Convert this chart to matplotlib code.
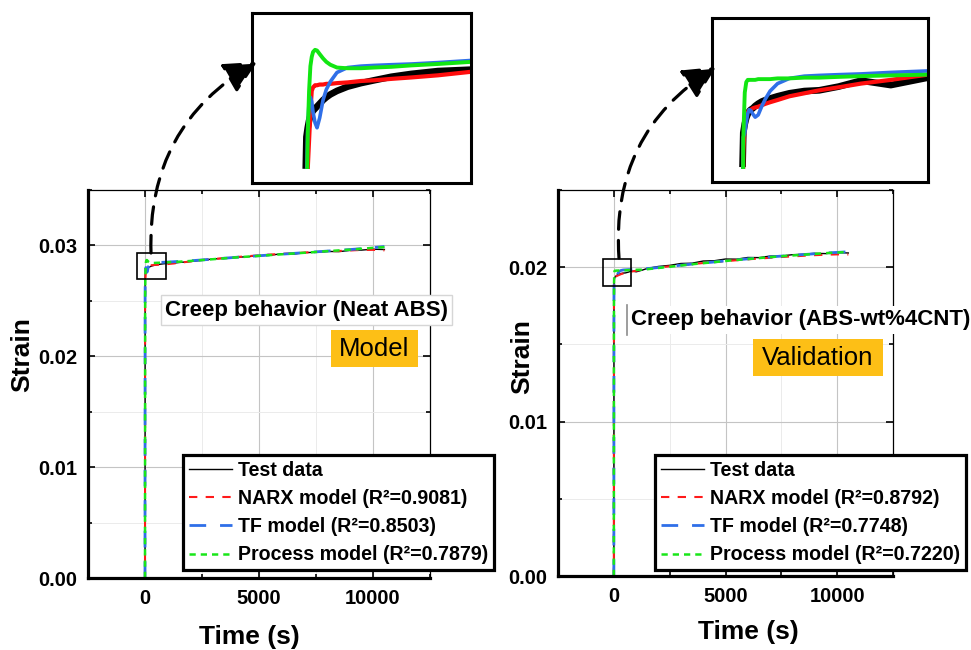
import matplotlib
matplotlib.use("Agg")
import matplotlib.pyplot as plt
from matplotlib.patches import Rectangle, FancyArrowPatch
from matplotlib.lines import Line2D
from matplotlib.ticker import MultipleLocator, FormatStrFormatter

plt.rcParams['font.family'] = ['Liberation Sans', 'DejaVu Sans']
plt.rcParams['font.weight'] = 'bold'

# ---------------------------------------------------------------- data
time_s = [0, 5, 10, 20, 30, 40, 50, 60, 75, 90, 110, 135, 160, 190, 240, 320,
          420, 520, 650, 800, 1000, 1250, 1500, 2000, 2500, 3000, 3500, 4000,
          4500, 5000, 5500, 6000, 6500, 7000, 7500, 8000, 8500, 9000, 9500,
          10000, 10500]

# Neat ABS (model set)
neat_test = [0, 0.02700, 0.02745, 0.02758, 0.02768, 0.02775, 0.02779, 0.02782,
             0.02785, 0.02788, 0.02792, 0.02797, 0.02801, 0.02805, 0.02810,
             0.02816, 0.02821, 0.02825, 0.02830, 0.02834, 0.02838, 0.02840,
             0.02846, 0.02855, 0.02866, 0.02878, 0.02884, 0.02893, 0.02898,
             0.02908, 0.02912, 0.02925, 0.02921, 0.02935, 0.02938, 0.02946,
             0.02944, 0.02955, 0.02958, 0.02966, 0.02963]
neat_narx = [0, 0.02620, 0.02660, 0.02700, 0.02740, 0.02780, 0.02810, 0.02815,
             0.02818, 0.02818, 0.02819, 0.02819, 0.02820, 0.02820, 0.02821,
             0.02822, 0.02824, 0.02825, 0.02827, 0.02829, 0.02832, 0.02837,
             0.02843, 0.02856, 0.02868, 0.02877, 0.02887, 0.02895, 0.02903,
             0.02910, 0.02918, 0.02924, 0.02930, 0.02936, 0.02941, 0.02946,
             0.02950, 0.02955, 0.02959, 0.02960, 0.02955]
neat_tf = [0, 0.02550, 0.02680, 0.02760, 0.02795, 0.02801, 0.02795, 0.02780,
           0.02765, 0.02758, 0.02772, 0.02797, 0.02812, 0.02823, 0.02836,
           0.02843, 0.02845, 0.02846, 0.02847, 0.02848, 0.02850, 0.02853,
           0.02856, 0.02862, 0.02869, 0.02877, 0.02885, 0.02893, 0.02900,
           0.02907, 0.02914, 0.02921, 0.02928, 0.02935, 0.02942, 0.02949,
           0.02956, 0.02963, 0.02971, 0.02980, 0.02990]
neat_proc = [0, 0.02400, 0.02620, 0.02750, 0.02810, 0.02845, 0.02858, 0.02865,
             0.02868, 0.02867, 0.02862, 0.02856, 0.02851, 0.02847, 0.02843,
             0.02842, 0.02842, 0.02843, 0.02844, 0.02846, 0.02848, 0.02851,
             0.02853, 0.02860, 0.02868, 0.02876, 0.02884, 0.02892, 0.02899,
             0.02906, 0.02913, 0.02920, 0.02927, 0.02934, 0.02941, 0.02948,
             0.02955, 0.02962, 0.02970, 0.02978, 0.02985]

# ABS-wt%4CNT (validation set)
cnt_test = [0, 0.01860, 0.01906, 0.01918, 0.01926, 0.01931, 0.01935, 0.01937,
            0.01939, 0.01942, 0.01945, 0.01948, 0.01950, 0.01952, 0.01955,
            0.01959, 0.01962, 0.01963, 0.01968, 0.01976, 0.01970, 0.01980,
            0.01992, 0.02005, 0.02012, 0.02024, 0.02026, 0.02040, 0.02042,
            0.02053, 0.02052, 0.02063, 0.02062, 0.02072, 0.02073, 0.02081,
            0.02084, 0.02090, 0.02088, 0.02095, 0.02092]
cnt_narx = [0, 0.01750, 0.01880, 0.01920, 0.01930, 0.01934, 0.01936, 0.01937,
            0.01939, 0.01940, 0.01941, 0.01943, 0.01945, 0.01947, 0.01950,
            0.01955, 0.01959, 0.01963, 0.01967, 0.01972, 0.01977, 0.01984,
            0.01990, 0.01998, 0.02006, 0.02013, 0.02020, 0.02027, 0.02033,
            0.02039, 0.02045, 0.02051, 0.02056, 0.02061, 0.02066, 0.02070,
            0.02074, 0.02078, 0.02081, 0.02083, 0.02082]
cnt_tf = [0, 0.01780, 0.01900, 0.01906, 0.01920, 0.01932, 0.01937, 0.01936,
          0.01931, 0.01927, 0.01930, 0.01942, 0.01952, 0.01962, 0.01972,
          0.01979, 0.01982, 0.01983, 0.01984, 0.01985, 0.01987, 0.01989,
          0.01991, 0.01998, 0.02005, 0.02013, 0.02020, 0.02027, 0.02034,
          0.02041, 0.02048, 0.02054, 0.02060, 0.02066, 0.02072, 0.02077,
          0.02082, 0.02087, 0.02092, 0.02096, 0.02100]
cnt_proc = [0, 0.01700, 0.01900, 0.01960, 0.01974, 0.01977, 0.01977, 0.01977,
            0.01977, 0.01977, 0.01978, 0.01978, 0.01978, 0.01978, 0.01979,
            0.01979, 0.01980, 0.01980, 0.01981, 0.01982, 0.01983, 0.01984,
            0.01987, 0.01995, 0.02003, 0.02011, 0.02019, 0.02026, 0.02033,
            0.02040, 0.02047, 0.02053, 0.02059, 0.02065, 0.02071, 0.02076,
            0.02081, 0.02086, 0.02091, 0.02095, 0.02099]

neat_r2 = ["0.9081", "0.8503", "0.7879"]
cnt_r2 = ["0.8792", "0.7748", "0.7220"]

# ---------------------------------------------------------------- layout
W, H = 971, 650
fig = plt.figure(figsize=(W / 100, H / 100), dpi=100)


def fx(px):
    return px / W


def fy(py):
    return 1 - py / H


def axes_px(left, top, right, bottom):
    return fig.add_axes([fx(left), fy(bottom), (right - left) / W, (bottom - top) / H])


SERIES_STYLE = [
    dict(color='black', lw=1.0, ls='-'),
    dict(color='#ff1a1a', lw=1.5, dashes=(4, 4)),
    dict(color='#2f6fe8', lw=2.0, dashes=(6, 5)),
    dict(color='#19e619', lw=1.8, dashes=(2.5, 2)),
]
INSET_STYLE = [
    dict(color='black', lw=4.8),
    dict(color='#ff0d0d', lw=3.0),
    dict(color='#2f6fe8', lw=2.6),
    dict(color='#12e612', lw=2.8),
]


def style_main(ax, ymax, ystep):
    ax.set_xlim(-2500, 12500)
    ax.set_ylim(0, ymax)
    ax.xaxis.set_major_locator(MultipleLocator(5000))
    ax.xaxis.set_minor_locator(MultipleLocator(2500))
    ax.yaxis.set_major_locator(MultipleLocator(ystep))
    ax.yaxis.set_minor_locator(MultipleLocator(ystep / 2))
    ax.yaxis.set_major_formatter(FormatStrFormatter('%.2f'))
    ax.grid(True, which='major', color='#c4c4c4', lw=0.8)
    ax.grid(True, which='minor', color='#ebebeb', lw=0.7)
    ax.set_axisbelow(True)
    ax.tick_params(which='both', direction='in', top=True, right=True,
                   labelsize=14.5, pad=8, width=1.2)
    ax.tick_params(which='major', length=5)
    ax.tick_params(which='minor', length=3)
    for side in ('left', 'bottom'):
        ax.spines[side].set_linewidth(2.3)
    for side in ('top', 'right'):
        ax.spines[side].set_linewidth(0.9)


def draw_panel(ax, series, r2, ymax, ystep, box, legend_at):
    labels = ["Test data",
              f"NARX model (R²={r2[0]})",
              f"TF model (R²={r2[1]})",
              f"Process model (R²={r2[2]})"]
    handles = []
    for y, st, lab in zip(series, SERIES_STYLE, labels):
        h, = ax.plot(time_s, y, label=lab, **st)
        handles.append(h)
    style_main(ax, ymax, ystep)
    (x0, x1), (y0, y1) = box
    ax.add_patch(Rectangle((x0, y0), x1 - x0, y1 - y0, fill=False,
                           lw=1.2, ec='black', zorder=6))
    leg = ax.legend(handles=handles, loc='upper left',
                    bbox_to_anchor=(fx(legend_at[0]), fy(legend_at[1])),
                    bbox_transform=fig.transFigure, borderaxespad=0,
                    fontsize=14.1, handlelength=2.2, handletextpad=0.3,
                    labelspacing=0.47, borderpad=0.3, fancybox=False,
                    framealpha=1, edgecolor='black')
    leg.get_frame().set_linewidth(2.3)


def draw_inset(rect, series, xlim, ylim):
    ins = axes_px(*rect)
    ins.set_xlim(*xlim)
    ins.set_ylim(*ylim)
    # the traces are shown only above a thin strip at the bottom of the frame
    floor = ylim[0] + 0.08 * (ylim[1] - ylim[0])
    keep = Rectangle((xlim[0], floor), xlim[1] - xlim[0], ylim[1] - floor,
                     transform=ins.transData, fill=False, lw=0)
    for y, st in zip(series, INSET_STYLE):
        line, = ins.plot(time_s[1:], y[1:], solid_capstyle='butt', **st)
        line.set_clip_path(keep)
    ins.set_xticks([])
    ins.set_yticks([])
    for sp in ins.spines.values():
        sp.set_linewidth(2.2)


def draw_arrow(start, end):
    arr = FancyArrowPatch(posA=(fx(start[0]), fy(start[1])),
                          posB=(fx(end[0]), fy(end[1])),
                          transform=fig.transFigure,
                          connectionstyle='arc3,rad=-0.3',
                          arrowstyle='-|>,head_length=1.0,head_width=0.5',
                          mutation_scale=20, lw=2.3, linestyle=(0, (5.5, 3.5)),
                          color='black', shrinkA=0, shrinkB=0)
    fig.patches.append(arr)


def tag_box(left, top, right, bottom, text):
    fig.patches.append(Rectangle((fx(left), fy(bottom)), (right - left) / W,
                                 (bottom - top) / H, transform=fig.transFigure,
                                 fc='#fdbf16', ec='none'))
    fig.text(fx((left + right) / 2), fy((top + bottom) / 2), text,
             ha='center', va='center', fontsize=18.5, fontweight='normal')


# ---------------------------------------------------------------- left panel
ax1 = axes_px(88, 190, 430, 578)
draw_panel(ax1, [neat_test, neat_narx, neat_tf, neat_proc], neat_r2,
           0.035, 0.01, ((-350, 900), (0.0270, 0.02935)), (183, 455))
fig.text(fx(22), fy(355), 'Strain', rotation=90, ha='center', va='center',
         fontsize=19)
fig.text(fx(249), fy(637), 'Time (s)', ha='center', va='center', fontsize=19)
fig.text(fx(165), fy(310), 'Creep behavior (Neat ABS)', ha='left', va='center',
         fontsize=16, bbox=dict(boxstyle='square,pad=0.2', fc='white',
                                ec='#d6d6d6', lw=1))
tag_box(331, 330, 418, 367, 'Model')
draw_inset((252, 13, 471, 183), [neat_test, neat_narx, neat_tf, neat_proc],
           (-400, 1250), (0.0268, 0.0292))
draw_arrow((151, 253), (257, 62))

# ---------------------------------------------------------------- right panel
ax2 = axes_px(558, 190, 893, 576)
draw_panel(ax2, [cnt_test, cnt_narx, cnt_tf, cnt_proc], cnt_r2,
           0.025, 0.01, ((-500, 760), (0.0188, 0.0205)), (655, 455))
fig.text(fx(522), fy(357), 'Strain', rotation=90, ha='center', va='center',
         fontsize=19)
fig.text(fx(748), fy(632), 'Time (s)', ha='center', va='center', fontsize=19)
fig.text(fx(631), fy(320), 'Creep behavior (ABS-wt%4CNT)', ha='left',
         va='center', fontsize=16,
         bbox=dict(boxstyle='square,pad=0.15', fc='white', ec='none'))
fig.add_artist(Line2D([fx(627), fx(627)], [fy(305), fy(335)],
                      color='#8c8c8c', lw=1.2))
tag_box(753, 339, 883, 376, 'Validation')
draw_inset((712, 18, 928, 182), [cnt_test, cnt_narx, cnt_tf, cnt_proc],
           (-200, 1250), (0.0184, 0.0206))
draw_arrow((619, 258), (716, 67))

fig.savefig('out.png', dpi=100)
